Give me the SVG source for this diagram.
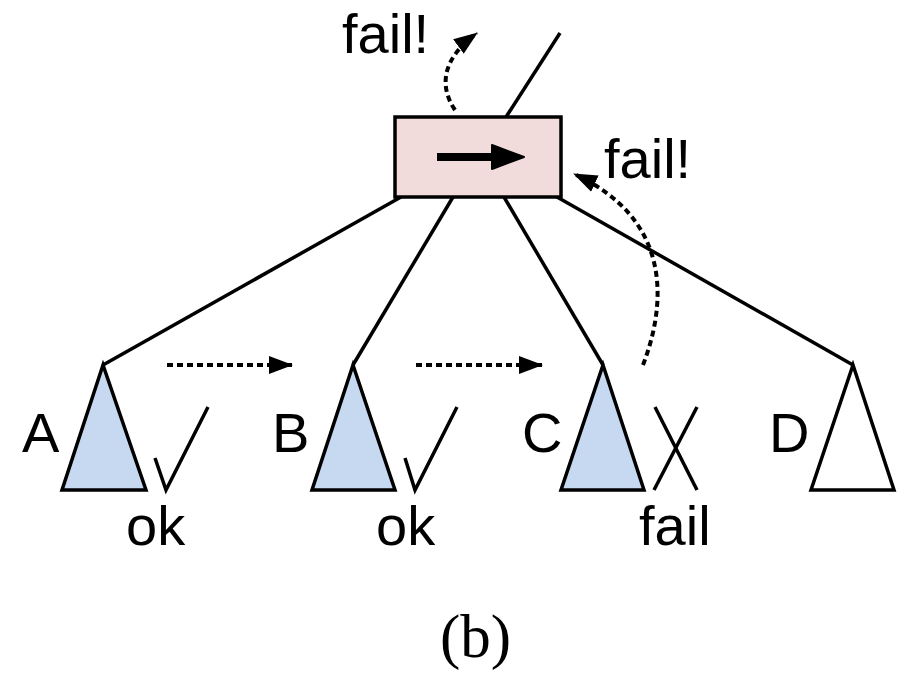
<svg xmlns="http://www.w3.org/2000/svg" width="911" height="674" viewBox="0 0 911 674">
  <style>
    .edge { stroke: #000; stroke-width: 3.5; fill: none; }
    .dots { stroke: #000; stroke-width: 4; fill: none; stroke-dasharray: 6 4; }
    .tri { stroke: #000; stroke-width: 3.5; stroke-linejoin: miter; }
    .lbl { font-family: "Liberation Sans", Arial, sans-serif; font-size: 56px; fill: #000; }
    .cap { font-family: "Liberation Serif", "Times New Roman", serif; font-size: 61px; fill: #000; }
  </style>
  <defs>
    <marker id="dothead" viewBox="0 0 24 20" refX="23" refY="10" markerWidth="24" markerHeight="20" markerUnits="userSpaceOnUse" orient="auto">
      <path d="M0,1 L24,10 L0,19 Z" fill="#000"/>
    </marker>
  </defs>

  <!-- tree edges and annotation arrows -->
  <g id="connectors">
    <line class="edge" x1="506" y1="117" x2="560" y2="33"/>
    <line class="edge" x1="401" y1="197" x2="103" y2="365"/>
    <line class="edge" x1="453" y1="197" x2="353" y2="365"/>
    <line class="edge" x1="504" y1="197" x2="603" y2="365"/>
    <line class="edge" x1="557" y1="197" x2="853" y2="365"/>

    <path class="dots" d="M167,365 L292,365" marker-end="url(#dothead)"/>
    <path class="dots" d="M416,365 L542,365" marker-end="url(#dothead)"/>
    <path class="dots" d="M455,110 C440,88 440,60 477,33" marker-end="url(#dothead)"/>
    <path class="dots" d="M643,365 C668,300 670,218 574,174" marker-end="url(#dothead)"/>
  </g>

  <!-- operator node -->
  <g id="op">
    <rect x="395" y="117" width="166" height="80" fill="#f2dcdb" stroke="#000" stroke-width="3.5"/>
    <line x1="437" y1="157" x2="497" y2="157" stroke="#000" stroke-width="8"/>
    <path d="M492,145 L524,157 L492,169 Z" fill="#000" stroke="#000" stroke-width="2" stroke-linejoin="round"/>
  </g>

  <g id="subtree-a">
    <polygon class="tri" points="103,365 62,490 146,490" fill="#c6d9f0"/>
    <text class="lbl" x="22" y="452">A</text>
    <polyline class="edge" points="155,458 166,490 208,407"/>
    <text class="lbl" x="126" y="545">ok</text>
  </g>

  <g id="subtree-b">
    <polygon class="tri" points="353,365 312,490 395,490" fill="#c6d9f0"/>
    <text class="lbl" x="272" y="452">B</text>
    <polyline class="edge" points="405,458 415,490 457,407"/>
    <text class="lbl" x="376" y="545">ok</text>
  </g>

  <g id="subtree-c">
    <polygon class="tri" points="603,365 561,490 644,490" fill="#c6d9f0"/>
    <text class="lbl" x="522" y="452">C</text>
    <line class="edge" x1="654" y1="490" x2="697" y2="407"/>
    <line class="edge" x1="655" y1="407" x2="697" y2="490"/>
    <text class="lbl" x="639" y="545">fail</text>
  </g>

  <g id="subtree-d">
    <polygon class="tri" points="853,365 811,490 894,490" fill="#fff"/>
    <text class="lbl" x="769" y="452">D</text>
  </g>

  <g id="labels">
    <text class="lbl" x="342" y="53">fail!</text>
    <text class="lbl" x="604" y="178">fail!</text>
    <text class="cap" x="440" y="657">(b)</text>
  </g>
</svg>
